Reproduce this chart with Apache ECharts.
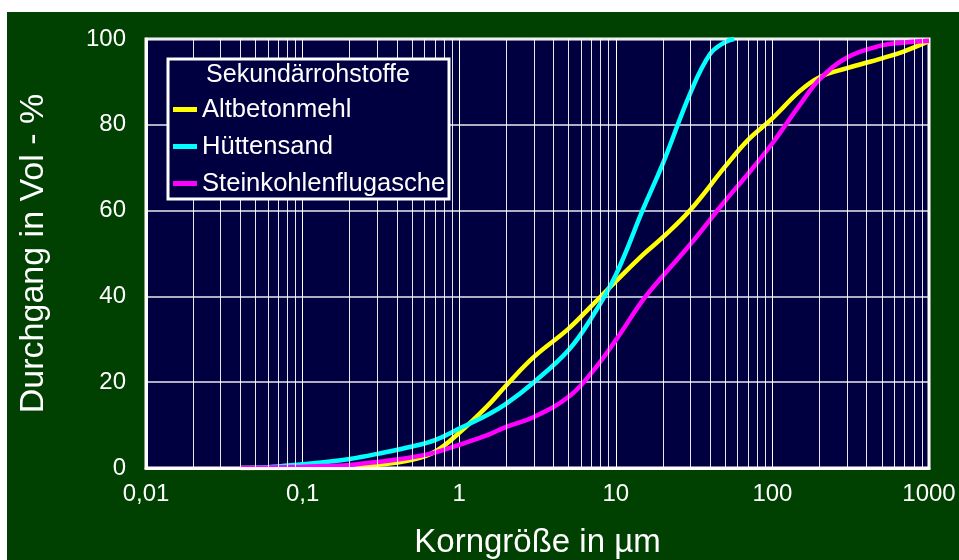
<!DOCTYPE html>
<html><head><meta charset="utf-8">
<script src="https://cdn.jsdelivr.net/npm/echarts@6/dist/echarts.min.js"></script>
<style>
html,body{margin:0;padding:0;background:#ffffff;width:959px;height:560px;overflow:hidden}
#bg{position:absolute;left:7px;top:12px;width:952px;height:548px;background:#004000}
#chart{position:absolute;left:0;top:0;width:959px;height:560px}
</style></head>
<body><div id="bg"></div><div id="chart"></div>
<script>
// ---- data ----
const LEGEND_TITLE = 'Sekundärrohstoffe';
const SERIES_NAMES = ['Altbetonmehl', 'Hüttensand', 'Steinkohlenflugasche'];
const X_TICK_LABELS = ['0,01', '0,1', '1', '10', '100', '1000'];
const X_MINOR_TICKS = [0.02,0.03,0.04,0.05,0.06,0.07,0.08,0.09,
  0.2,0.3,0.4,0.5,0.6,0.7,0.8,0.9, 2,3,4,5,6,7,8,9,
  20,30,40,50,60,70,80,90, 200,300,400,500,600,700,800,900];

// particle size in µm
const sizes = [0.04,0.06,0.1,0.15,0.2,0.3,0.5,0.7,1,1.5,2,3,5,7,10,15,20,30,50,70,100,150,200,300,500,700,1000];
const huettensandSizes = [0.04,0.06,0.1,0.15,0.2,0.3,0.5,0.7,1,1.5,2,3,5,7,10,15,20,30,40,50,57];
// passing in Vol-%
const altbetonmehl = [0,0,0.1,0.2,0.3,0.7,1.9,3.8,8.2,14.3,19.3,25.9,32.5,37.8,43.5,49.8,53.8,60.2,70.3,76.5,81.5,87.9,91.1,93.2,95.5,97.2,99.5];
const huettensand = [0,0.2,0.9,1.5,2.1,3.3,5,6.5,9.2,12.3,15,20,27.5,35,45,60.5,71,87.5,96.5,99.3,100];
const steinkohlenflugasche = [0,0.1,0.3,0.5,0.7,1.4,2.5,3.6,5.4,7.6,9.6,11.9,16.6,22.2,29.8,39.3,44.8,52.2,62.3,68.6,75.7,84.7,90.6,95.7,98.5,99.2,99.6];

const COLORS = ['#ffff00', '#00ffff', '#ff00ff'];
const FONT = "'Liberation Sans', Arial, sans-serif";

function pairs(xs, ys) { return ys.map((y, i) => [xs[i], y]); }

const chart = echarts.init(document.getElementById('chart'), null, {renderer: 'canvas'});
const lineSeries = [pairs(sizes, altbetonmehl), pairs(huettensandSizes, huettensand), pairs(sizes, steinkohlenflugasche)].map((d, i) => ({
  name: SERIES_NAMES[i], type: 'line', data: d, smooth: 0.4, showSymbol: false, z: 3,
  lineStyle: {color: COLORS[i], width: 4.5}, itemStyle: {color: COLORS[i]}
}));

chart.setOption({
  backgroundColor: 'transparent',
  animation: false,
  textStyle: {fontFamily: FONT},
  grid: {left: 146, top: 39, right: 30, bottom: 92, show: true, outerBoundsMode: 'none', containLabel: false,
    backgroundColor: '#000040', borderColor: '#ffffff', borderWidth: 3},
  xAxis: [{
    type: 'log', logBase: 10, min: 0.01, max: 1000,
    name: 'Korngröße in µm', nameLocation: 'middle', nameGap: 58,
    nameTextStyle: {color: '#ffffff', fontSize: 33, fontFamily: FONT},
    axisLine: {show: false},
    axisTick: {show: false},
    axisLabel: {color: '#ffffff', fontSize: 24, margin: 14, fontFamily: FONT,
      formatter: (v, idx) => X_TICK_LABELS[idx] !== undefined ? X_TICK_LABELS[idx] : ''},
    splitLine: {show: true, lineStyle: {color: '#ffffff', width: 1}}
  }, {
    type: 'log', logBase: 10, min: 0.01, max: 1000, position: 'bottom', z: 10,
    axisLine: {show: true, onZero: false, lineStyle: {color: '#ffffff', width: 3}},
    axisTick: {show: false}, axisLabel: {show: false}, splitLine: {show: false}
  }],
  yAxis: {
    type: 'value', min: 0, max: 100, interval: 20,
    name: 'Durchgang in Vol - %', nameLocation: 'middle', nameGap: 95,
    nameTextStyle: {color: '#ffffff', fontSize: 34, fontFamily: FONT},
    axisLine: {show: true, lineStyle: {color: '#ffffff', width: 3}},
    axisTick: {show: false},
    axisLabel: {color: '#ffffff', fontSize: 24, margin: 20, fontFamily: FONT},
    splitLine: {show: true, lineStyle: {color: '#e8e8f0', width: 1.5}}
  },
  legend: {
    data: SERIES_NAMES, orient: 'vertical', left: 173, top: 96, padding: 0, z: 20,
    icon: 'rect', itemWidth: 24, itemHeight: 5, itemGap: 10,
    textStyle: {color: '#ffffff', fontSize: 25.6, lineHeight: 27, fontFamily: FONT}
  },
  graphic: [
    {type: 'rect', z: 15, silent: true, shape: {x: 168, y: 59, width: 281, height: 140},
      style: {fill: '#000040', stroke: '#ffffff', lineWidth: 3}},
    {type: 'text', z: 25, silent: true, x: 308, y: 75,
      style: {text: LEGEND_TITLE, fill: '#ffffff', font: '25px ' + FONT, textAlign: 'center', textVerticalAlign: 'middle'}}
  ],
  series: [{
    type: 'line', data: [], z: 1, silent: true,
    markLine: {silent: true, symbol: ['none', 'none'], label: {show: false}, animation: false,
      lineStyle: {color: '#ffffff', width: 1, type: 'solid', opacity: 0.9},
      data: X_MINOR_TICKS.map(v => ({xAxis: v}))}
  }].concat(lineSeries)
});
</script>
</body></html>
